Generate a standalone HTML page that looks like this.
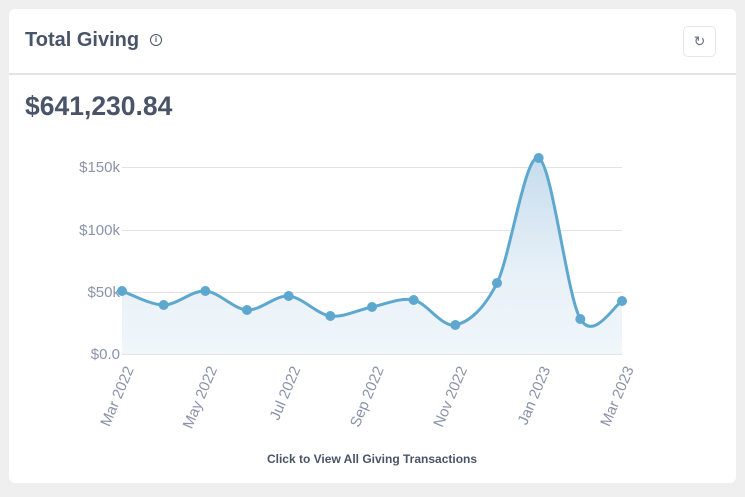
<!DOCTYPE html>
<html><head><meta charset="utf-8"><style>
body{margin:0;width:745px;height:497px;background:#efefef;font-family:"Liberation Sans",sans-serif;overflow:hidden}
.card{position:absolute;left:9px;top:9px;width:727px;height:474px;background:#fff;border-radius:6px}
.hdr{height:64px;border-bottom:2px solid #e4e4e6;position:relative}
.title{position:absolute;left:16px;top:20px;font-size:20px;font-weight:bold;color:#4a5468}
.info{position:absolute;left:141px;top:25px;width:10px;height:10px;border:1.5px solid #4a5468;border-radius:50%;font-size:8px;text-align:center;line-height:10px;color:#4a5468;font-weight:bold}
.btn{position:absolute;left:674px;top:17px;width:31px;height:29px;border:1px solid #e6e6ea;border-radius:5px;color:#6a7282;text-align:center;line-height:29px;font-size:14px}
.amt{position:absolute;left:16px;top:82px;font-size:26.5px;font-weight:bold;color:#4a5468}
svg{position:absolute;left:0;top:0}
</style></head><body>
<div class="card"><div class="hdr"><div class="title">Total Giving</div><div class="info">i</div><div class="btn">↻</div></div>
<div class="amt">$641,230.84</div></div>
<svg width="745" height="497" id="s">
<defs><linearGradient id="g" x1="0" y1="0" x2="0" y2="1"><stop offset="0" stop-color="#c6dced"/><stop offset="0.6" stop-color="#e8f1f8"/><stop offset="1" stop-color="#f0f6fa"/></linearGradient></defs>
<g stroke="#e3e3e6" stroke-width="1">
<line x1="122" x2="622" y1="167.5" y2="167.5"/><line x1="122" x2="622" y1="230.5" y2="230.5"/><line x1="122" x2="622" y1="292.5" y2="292.5"/><line x1="122" x2="622" y1="354.5" y2="354.5"/></g>
<g fill="#8a93aa" font-size="15" text-anchor="end">
<text x="120" y="172">$150k</text><text x="120" y="235">$100k</text><text x="120" y="297">$50k</text><text x="120" y="359">$0.0</text></g>
<path id="area" fill="url(#g)"/><path id="ln" fill="none" stroke="#5ea8cf" stroke-width="3"/>
<g id="pts" fill="#5ea8cf"></g>
<g fill="#8a93aa" font-size="15" text-anchor="end" id="xl"></g>
<text x="372" y="463" text-anchor="middle" font-size="12" font-weight="bold" fill="#4a5468">Click to View All Giving Transactions</text>
</svg>
<script>
var ys=[291,305,291,310,296,316,307,300,325,283,158,319,301],P=[];
for(var i=0;i<13;i++)P.push([122+i*500/12,ys[i]]);
var d="M"+P[0][0]+","+P[0][1],t=0.16;
for(i=0;i<12;i++){var p0=P[Math.max(0,i-1)],p1=P[i],p2=P[i+1],p3=P[Math.min(12,i+2)];
d+=" C"+(p1[0]+(p2[0]-p0[0])*t)+","+(p1[1]+(p2[1]-p0[1])*t)+" "+(p2[0]-(p3[0]-p1[0])*t)+","+(p2[1]-(p3[1]-p1[1])*t)+" "+p2[0]+","+p2[1];}
document.getElementById("ln").setAttribute("d",d);
document.getElementById("area").setAttribute("d",d+" L622,354 L122,354Z");
var g=document.getElementById("pts"),s="";P.forEach(function(p){s+='<circle cx="'+p[0]+'" cy="'+p[1]+'" r="5"/>'});g.innerHTML=s;
var L=["Mar 2022","May 2022","Jul 2022","Sep 2022","Nov 2022","Jan 2023","Mar 2023"],x="";
L.forEach(function(l,k){var px=122+k*1000/12+12,py=369;x+='<text transform="translate('+px+','+py+') rotate(-67)">'+l+'</text>'});
document.getElementById("xl").innerHTML=x;
</script>
</body></html>
